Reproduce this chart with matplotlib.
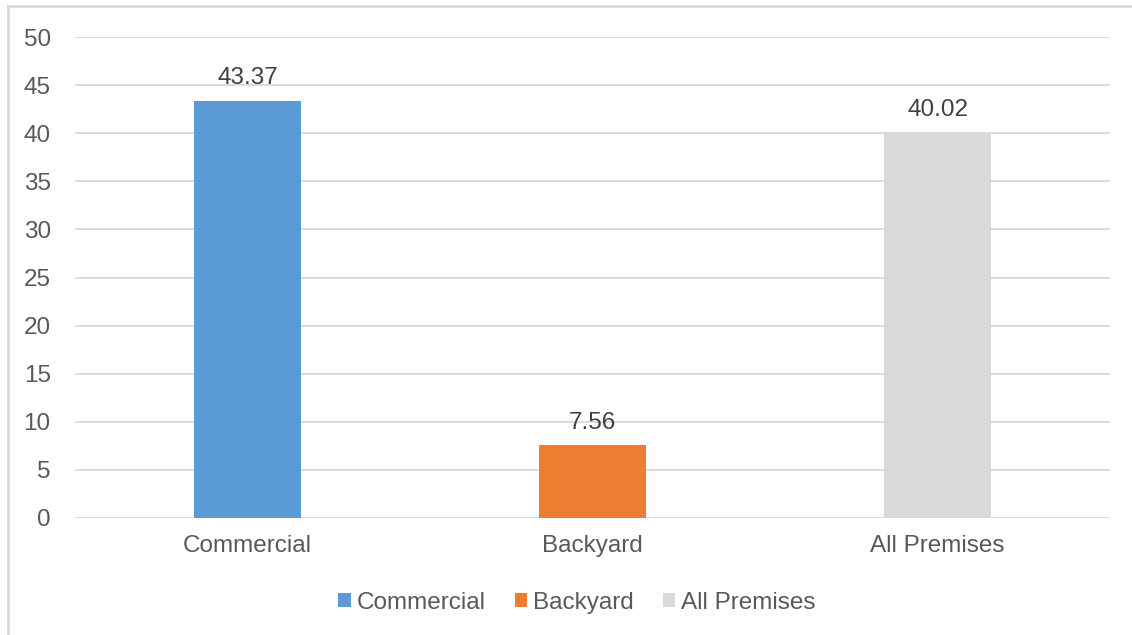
import matplotlib
matplotlib.use("Agg")
import matplotlib.pyplot as plt
from matplotlib.lines import Line2D
from matplotlib.patches import Patch

categories = ["Commercial", "Backyard", "All Premises"]
values = [43.37, 7.56, 40.02]
colors = ["#5B9BD5", "#ED7D31", "#D9D9D9"]
yticks = [0, 5, 10, 15, 20, 25, 30, 35, 40, 45, 50]

plt.rcParams["font.family"] = ["Liberation Sans", "DejaVu Sans"]
text_color = "#595959"
grid_color = "#D9D9D9"
fs = 17.5

fig = plt.figure(figsize=(11.32, 6.35), dpi=100)
ax = fig.add_axes([75 / 1132, 1 - 518 / 635, 1035 / 1132, (518 - 37) / 635])

x = list(range(len(categories)))
bars = ax.bar(x, values, width=0.31, color=colors, zorder=3)
for xi, v in zip(x, values):
    ax.text(xi, v + 1.2, f"{v:.2f}", ha="center", va="bottom",
            fontsize=fs, color="#404040")

ax.set_xlim(-0.5, len(categories) - 0.5)
ax.set_ylim(0, 50)
ax.set_yticks(yticks)
ax.set_yticklabels([str(t) for t in yticks])
ax.set_xticks(x)
ax.set_xticklabels(categories)
ax.tick_params(axis="both", length=0, labelsize=fs, colors=text_color)
ax.tick_params(axis="y", pad=17.5)
ax.tick_params(axis="x", pad=12)
ax.grid(axis="y", color=grid_color, linewidth=1.3, zorder=0)
for s in ax.spines.values():
    s.set_visible(False)

handles = [Patch(facecolor=c, edgecolor="none") for c in colors]
fig.legend(handles, categories, loc="center", bbox_to_anchor=(577 / 1132, 1 - 603 / 635),
           ncol=3, frameon=False, fontsize=fs, labelcolor=text_color,
           handlelength=0.5, handleheight=0.5, handletextpad=0.25, columnspacing=1.2)

# chart-area border on the left and top edges
fig.add_artist(Line2D([7.5 / 1132, 7.5 / 1132], [0, 1 - 5.5 / 635],
                      transform=fig.transFigure, color=grid_color, linewidth=2))
fig.add_artist(Line2D([7.5 / 1132, 1], [1 - 5.5 / 635, 1 - 5.5 / 635],
                      transform=fig.transFigure, color=grid_color, linewidth=2))

fig.savefig("out.png", dpi=100)
